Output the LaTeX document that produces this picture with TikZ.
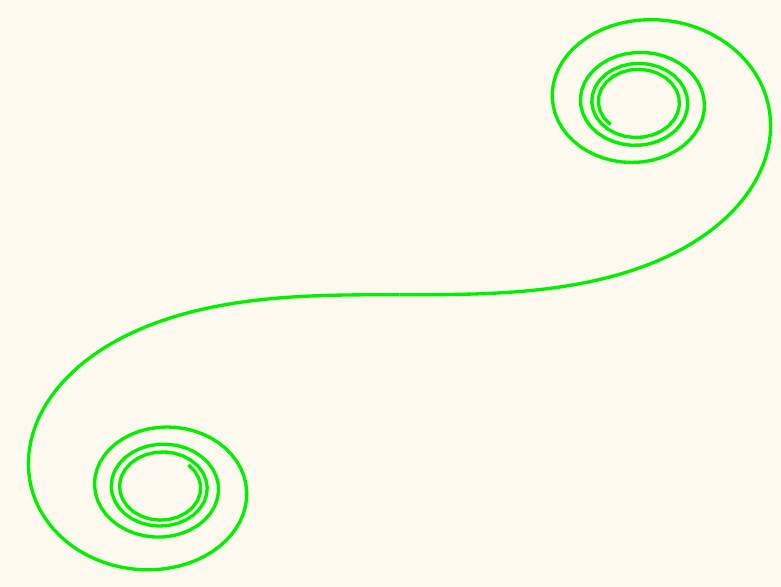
\documentclass[tikz,border=0pt]{standalone}
\definecolor{sfondo}{HTML}{FDF9EF}
\definecolor{verde}{HTML}{00F000}
\tikzset{
  spirale/.style={draw=verde, line width=0.95pt, line join=round},
}
\begin{document}
\begin{tikzpicture}

  % --- sfondo ---
  \fill[sfondo] (0,0) rectangle (7.81,5.87);

  % --- clotoide, centro in (3.995,2.9225) ---
  \begin{scope}[shift={(3.995,2.9225)}, xscale=4.76, yscale=3.855]
    \coordinate (centro) at (0,0);
    % ramo superiore
    \draw[spirale] (centro)
      \foreach \i in {1,...,197} { -- ++({0.036*(\i-0.5)*(\i-0.5)}:0.02) };
    % ramo inferiore
    \draw[spirale] (centro)
      \foreach \i in {1,...,197} { -- ++({180+0.036*(\i-0.5)*(\i-0.5)}:0.02) };
  \end{scope}

\end{tikzpicture}
\end{document}
